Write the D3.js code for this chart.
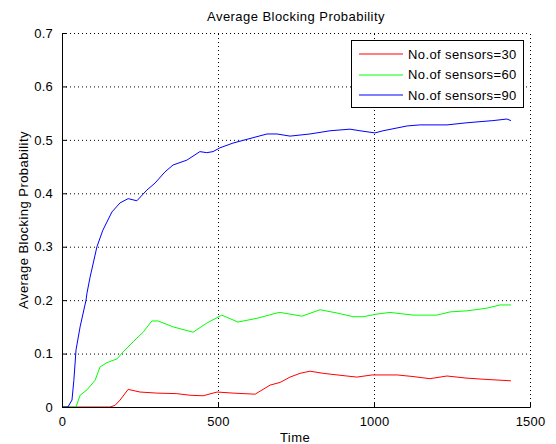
<!DOCTYPE html>
<html>
<head>
<meta charset="utf-8">
<script src="https://cdn.jsdelivr.net/npm/d3@7"></script>
<style>
  body { margin: 0; background: #fff; }
  svg { font-family: "Liberation Sans", Arial, sans-serif; }
</style>
</head>
<body>
<svg id="chart" width="556" height="444"></svg>
<script>
'use strict';

const seriesNames = ['No.of sensors=30', 'No.of sensors=60', 'No.of sensors=90'];
const seriesColors = ['#ff0000', '#00ff00', '#0000ff'];
const xTicks = [0, 500, 1000, 1500];
const yTicks = [0, 0.1, 0.2, 0.3, 0.4, 0.5, 0.6, 0.7];

// [time, probability]
const sensors30 = [
  [0, 0], [154, 0], [170, 0.003], [186, 0.013], [212, 0.033], [250, 0.028], [304, 0.026],
  [368, 0.025], [410, 0.022], [452, 0.021], [497, 0.028], [548, 0.026], [619, 0.024],
  [667, 0.041], [699, 0.046], [731, 0.056], [763, 0.063], [795, 0.067], [837, 0.063],
  [913, 0.058], [945, 0.056], [994, 0.06], [1074, 0.06], [1125, 0.057], [1179, 0.053],
  [1234, 0.058], [1298, 0.054], [1349, 0.052], [1439, 0.049]
];
const sensors60 = [
  [0, 0], [45, 0], [58, 0.022], [80, 0.032], [106, 0.05], [122, 0.075], [144, 0.083],
  [176, 0.09], [196, 0.103], [228, 0.122], [260, 0.14], [288, 0.161], [308, 0.161],
  [356, 0.15], [420, 0.14], [464, 0.157], [512, 0.172], [564, 0.159], [625, 0.166],
  [689, 0.176], [699, 0.177], [769, 0.17], [827, 0.182], [881, 0.176], [933, 0.169],
  [965, 0.169], [1010, 0.174], [1051, 0.177], [1125, 0.172], [1202, 0.172], [1244, 0.178],
  [1298, 0.18], [1362, 0.185], [1404, 0.191], [1439, 0.191]
];
const sensors90 = [
  [0, 0], [19, 0], [32, 0.013], [38, 0.05], [45, 0.107], [58, 0.15], [77, 0.2],
  [80, 0.213], [90, 0.243], [112, 0.3], [131, 0.331], [160, 0.365], [186, 0.382],
  [212, 0.39], [240, 0.386], [272, 0.406], [298, 0.419], [330, 0.44], [356, 0.453],
  [400, 0.462], [442, 0.478], [464, 0.476], [484, 0.478], [506, 0.485], [548, 0.494],
  [612, 0.504], [657, 0.511], [689, 0.511], [731, 0.507], [795, 0.511], [859, 0.517],
  [923, 0.52], [955, 0.517], [1003, 0.513], [1029, 0.517], [1106, 0.526], [1147, 0.528],
  [1234, 0.528], [1298, 0.532], [1381, 0.536], [1426, 0.539], [1439, 0.536]
];
const seriesData = [sensors30, sensors60, sensors90];

const margin = { left: 62, right: 26, top: 33, bottom: 37 };
const width = 556, height = 444;
const labelFont = 13, labelSpacing = 0.45;

const svg = d3.select('#chart');

const x = d3.scaleLinear().domain([0, 1500]).range([margin.left, width - margin.right]);
const y = d3.scaleLinear().domain([0, 0.7]).range([height - margin.bottom, margin.top]);

// dotted grid
const grid = svg.append('g').attr('stroke', '#000').attr('stroke-dasharray', '1,3').attr('stroke-width', 1);
grid.selectAll('line.gx').data(xTicks.slice(1)).join('line')
  .attr('x1', d => x(d) + 0.5).attr('x2', d => x(d) + 0.5)
  .attr('y1', y(0)).attr('y2', y(0.7));
grid.selectAll('line.gy').data(yTicks.slice(1)).join('line')
  .attr('x1', x(0)).attr('x2', x(1500))
  .attr('y1', d => y(d) + 0.5).attr('y2', d => y(d) + 0.5);

// series
const line = d3.line().x(d => x(d[0])).y(d => y(d[1]));
svg.append('g').selectAll('path').data(seriesData).join('path')
  .attr('fill', 'none')
  .attr('stroke', (d, i) => seriesColors[i])
  .attr('stroke-width', 1)
  .attr('d', line);

// axes with inward ticks
const xAxis = svg.append('g').attr('transform', `translate(0,${y(0)})`)
  .call(d3.axisBottom(x).tickValues(xTicks).tickSize(-5).tickPadding(10).tickFormat(d3.format('d')));
const yAxis = svg.append('g').attr('transform', `translate(${x(0)},0)`)
  .call(d3.axisLeft(y).tickValues(yTicks).tickSize(-5).tickPadding(9).tickFormat(d => d === 0 ? '0' : d3.format('.1f')(d)));
[xAxis, yAxis].forEach(a => {
  a.selectAll('text').attr('font-size', labelFont).attr('fill', '#000')
    .attr('letter-spacing', 0.2)
    .attr('font-family', '"Liberation Sans", Arial, sans-serif');
  a.selectAll('line, path').attr('stroke', '#000');
});

// titles
svg.append('text').attr('x', 296).attr('y', 21).attr('text-anchor', 'middle')
  .attr('font-size', labelFont).attr('letter-spacing', labelSpacing).text('Average Blocking Probability');
svg.append('text').attr('x', 295).attr('y', 442).attr('text-anchor', 'middle')
  .attr('font-size', labelFont).attr('letter-spacing', labelSpacing).text('Time');
svg.append('text').attr('transform', `translate(28,${(y(0) + y(0.7)) / 2}) rotate(-90)`)
  .attr('text-anchor', 'middle').attr('font-size', labelFont).attr('letter-spacing', labelSpacing)
  .text('Average Blocking Probability');

// legend
const legend = svg.append('g');
legend.append('rect').attr('x', 351.5).attr('y', 40.5).attr('width', 172).attr('height', 67)
  .attr('fill', '#fff').attr('stroke', '#000');
seriesNames.forEach((name, i) => {
  const rowY = 54 + i * 20.5;
  legend.append('path').attr('d', `M359,${Math.round(rowY)}H403`).attr('fill', 'none')
    .attr('stroke', seriesColors[i]).attr('stroke-width', 1);
  legend.append('text').attr('x', 408).attr('y', rowY).attr('dy', '0.35em').attr('font-size', labelFont)
    .attr('letter-spacing', 0.4).text(name);
});
</script>
</body>
</html>
